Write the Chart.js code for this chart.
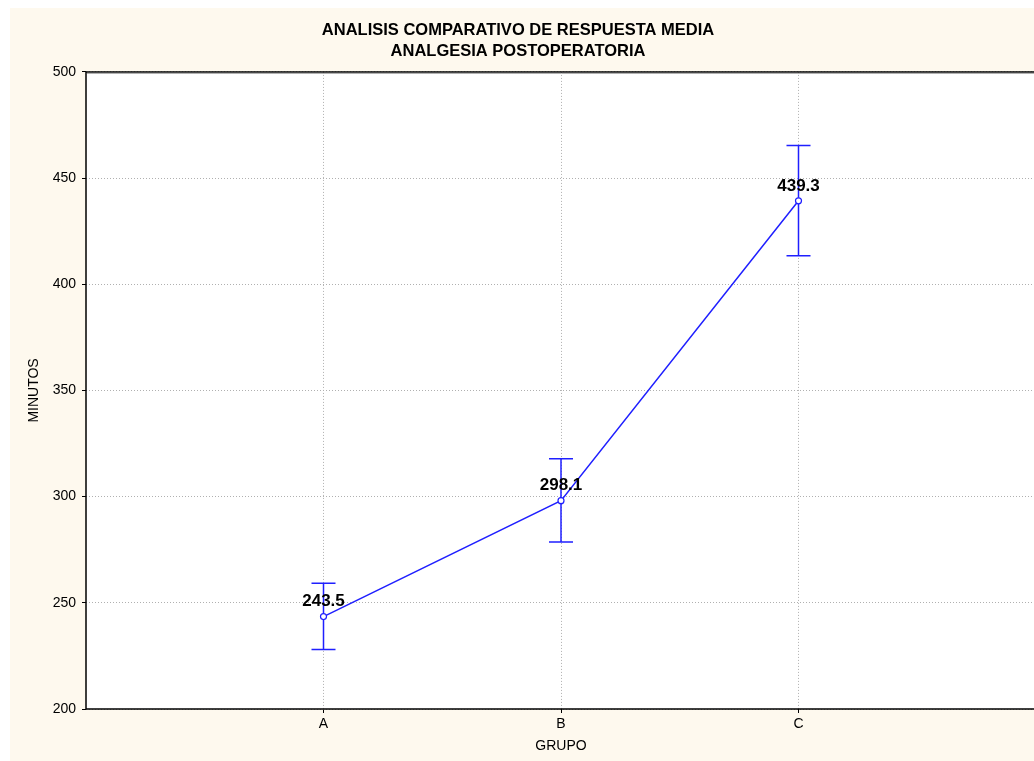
<!DOCTYPE html>
<html>
<head>
  <meta charset="UTF-8">
  <title>Analisis comparativo de respuesta media</title>
  <script src="https://cdn.jsdelivr.net/npm/chart.js"></script>
  <style>
    html, body { margin: 0; padding: 0; background: #fff; overflow: hidden; }
    canvas { display: block; }
  </style>
</head>
<body>
  <canvas id="grafico" width="1040" height="761"></canvas>

  <script>
    // datos
    const grupos = ['A', 'B', 'C'];
    const medias = [243.5, 298.1, 439.3];
    const limSup = [259.2, 317.8, 465.4];
    const limInf = [228.0, 278.6, 413.4];

    const azul = '#1f1fff';
    const crema = '#fef9ee';

    // fondo crema + area blanca + marco (sin borde derecho visible)
    const fondo = {
      id: 'fondo',
      beforeDraw(chart) {
        const c = chart.ctx, a = chart.chartArea;
        c.save();
        c.fillStyle = '#fff';
        c.fillRect(0, 0, chart.width, chart.height);
        c.fillStyle = crema;
        c.fillRect(10, 8, chart.width - 10, chart.height - 8);
        c.fillStyle = '#fff';
        c.fillRect(a.left, a.top, a.right - a.left, a.bottom - a.top);
        c.restore();
      },
      afterDraw(chart) {
        const c = chart.ctx, a = chart.chartArea;
        c.save();
        c.strokeStyle = '#000';
        c.lineWidth = 1.5;
        c.beginPath();
        c.moveTo(a.right, a.top);
        c.lineTo(a.left, a.top);
        c.lineTo(a.left, a.bottom);
        c.lineTo(a.right, a.bottom);
        c.stroke();
        c.strokeStyle = '#aaa';
        c.lineWidth = 1;
        c.beginPath();
        c.moveTo(a.left + 1, a.top + 1.5);
        c.lineTo(a.right, a.top + 1.5);
        c.stroke();
        c.restore();
      }
    };

    // barras de error
    const barrasError = {
      id: 'barrasError',
      beforeDatasetsDraw(chart) {
        const c = chart.ctx, x = chart.scales.x, y = chart.scales.y;
        c.save();
        c.strokeStyle = azul;
        c.lineWidth = 1.5;
        grupos.forEach((g, i) => {
          const px = x.getPixelForValue(i + 1);
          const ys = y.getPixelForValue(limSup[i]);
          const yi = y.getPixelForValue(limInf[i]);
          c.beginPath();
          c.moveTo(px, ys); c.lineTo(px, yi);
          c.moveTo(px - 12, ys); c.lineTo(px + 12, ys);
          c.moveTo(px - 12, yi); c.lineTo(px + 12, yi);
          c.stroke();
        });
        c.restore();
      }
    };

    // etiquetas con el valor medio
    const etiquetas = {
      id: 'etiquetas',
      afterDatasetsDraw(chart) {
        const c = chart.ctx, x = chart.scales.x, y = chart.scales.y;
        c.save();
        c.font = 'bold 17px "Liberation Sans", Arial, sans-serif';
        c.fillStyle = '#000';
        c.textAlign = 'center';
        c.textBaseline = 'middle';
        medias.forEach((m, i) => {
          c.fillText(m.toFixed(1), x.getPixelForValue(i + 1), y.getPixelForValue(m) - 15);
        });
        c.restore();
      }
    };

    const fuente = { family: '"Liberation Sans", Arial, sans-serif', size: 14 };

    new Chart(document.getElementById('grafico'), {
      type: 'line',
      data: {
        datasets: [{
          data: medias.map((m, i) => ({ x: i + 1, y: m })),
          borderColor: azul,
          borderWidth: 1.5,
          pointRadius: 3,
          pointBackgroundColor: '#fff',
          pointBorderColor: azul,
          pointBorderWidth: 1.2,
          tension: 0
        }]
      },
      options: {
        responsive: false,
        animation: false,
        layout: { padding: { left: 0, top: 0, bottom: 0, right: 4 }, autoPadding: false },
        plugins: {
          legend: { display: false },
          tooltip: { enabled: false },
          title: {
            display: true,
            text: ['ANALISIS COMPARATIVO DE RESPUESTA MEDIA', 'ANALGESIA POSTOPERATORIA'],
            color: '#000',
            font: { family: fuente.family, size: 16.5, weight: 'bold', lineHeight: 1.27 },
            padding: { top: 20, bottom: 10 }
          }
        },
        scales: {
          x: {
            type: 'linear',
            min: 0,
            max: 4,
            afterBuildTicks: s => { s.ticks = grupos.map((g, i) => ({ value: i + 1 })); },
            afterFit: s => { s.height = 52; },
            ticks: {
              color: '#000',
              font: fuente,
              padding: 3,
              callback: v => grupos[v - 1]
            },
            grid: {
              color: '#b0b0b0',
              tickColor: '#000',
              tickLength: 4,
              tickBorderDash: []
            },
            border: { display: false, dash: [1, 2] },
            title: {
              display: true,
              text: 'GRUPO',
              color: '#000',
              font: fuente,
              padding: { top: 0, bottom: 6 }
            }
          },
          y: {
            min: 200,
            max: 500,
            afterFit: s => { s.width = 86; },
            ticks: { stepSize: 50, color: '#000', font: fuente, padding: 6 },
            grid: {
              color: '#b0b0b0',
              tickColor: '#000',
              tickLength: 4,
              tickBorderDash: []
            },
            border: { display: false, dash: [1, 2] },
            title: {
              display: true,
              text: 'MINUTOS',
              color: '#000',
              font: fuente,
              padding: { top: 25.6, bottom: 0 }
            }
          }
        }
      },
      plugins: [fondo, barrasError, etiquetas]
    });
  </script>
</body>
</html>
